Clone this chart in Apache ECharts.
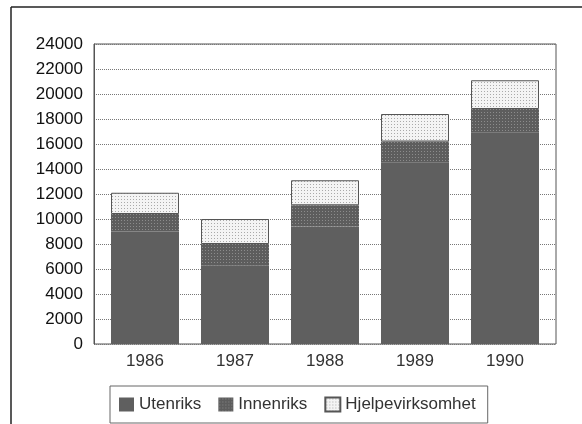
<!DOCTYPE html>
<html>
<head>
<meta charset="utf-8">
<script src="https://cdn.jsdelivr.net/npm/echarts@6/dist/echarts.min.js"></script>
<style>
  html, body { margin: 0; padding: 0; background: #fff; }
  #chart { width: 582px; height: 424px; }
</style>
</head>
<body>
<div id="chart"></div>
<script>
var years = ['1986', '1987', '1988', '1989', '1990']
var utenriks = [9000, 6300, 9400, 14500, 16900]
var innenriks = [1400, 1700, 1700, 1700, 1900]
var hjelpevirksomhet = [1700, 2000, 2000, 2200, 2300]
var yTicks = [0, 2000, 4000, 6000, 8000, 10000, 12000, 14000, 16000, 18000, 20000, 22000, 24000]

// prikkete fyllmønster
function dots (bg, dot) {
  var c = document.createElement('canvas')
  c.width = 3
  c.height = 3
  var ctx = c.getContext('2d')
  ctx.fillStyle = bg
  ctx.fillRect(0, 0, 3, 3)
  ctx.fillStyle = dot
  ctx.fillRect(1, 1, 1, 1)
  return { image: c, repeat: 'repeat' }
}

var font = "'Liberation Sans', Arial, sans-serif"
var chart = echarts.init(document.getElementById('chart'))

var options = {
  animation: false,
  textStyle: { fontFamily: font },
  graphic: [
    { type: 'line', shape: { x1: 11, y1: 7, x2: 11, y2: 424 }, style: { stroke: '#222', lineWidth: 1.5 } },
    { type: 'line', shape: { x1: 11, y1: 7, x2: 582, y2: 7 }, style: { stroke: '#222', lineWidth: 1.5 } }
  ],
  grid: [
    { left: 94, right: 26, top: 44, bottom: 80, show: true, borderColor: '#555', borderWidth: 1 },
    { left: 100, right: 32, top: 44, bottom: 80 }
  ],
  xAxis: [
    { type: 'value', gridIndex: 0, show: false, min: 0, max: 1 },
    {
      type: 'category',
      gridIndex: 1,
      data: years,
      axisLine: { show: false },
      axisTick: { show: false },
      axisLabel: { color: '#333', fontSize: 17, margin: 9, fontFamily: font }
    }
  ],
  yAxis: [
    {
      type: 'value',
      gridIndex: 0,
      min: 0,
      max: 24000,
      interval: 2000,
      axisLine: { show: true, lineStyle: { color: '#555' } },
      axisTick: { show: false },
      splitLine: { show: true, lineStyle: { type: 'dotted', color: '#777', width: 1 } },
      axisLabel: {
        color: '#111',
        fontSize: 17,
        margin: 11,
        fontFamily: font,
        formatter: function (v) { return yTicks.indexOf(v) >= 0 ? String(v) : '' }
      }
    },
    { type: 'value', gridIndex: 1, min: 0, max: 24000, show: false }
  ],
  legend: {
    left: 110,
    top: 386,
    padding: [10, 12, 10, 9],
    itemGap: 17,
    itemWidth: 15,
    itemHeight: 14,
    icon: 'rect',
    borderColor: '#666',
    borderWidth: 1,
    textStyle: { fontSize: 17, color: '#333', fontFamily: font },
    data: ['Utenriks', 'Innenriks', 'Hjelpevirksomhet']
  },
  series: [
    {
      name: 'Utenriks',
      type: 'bar',
      xAxisIndex: 1,
      yAxisIndex: 1,
      stack: 'tot',
      barWidth: 68,
      itemStyle: { color: '#5f5f5f' },
      data: utenriks
    },
    {
      name: 'Innenriks',
      type: 'bar',
      xAxisIndex: 1,
      yAxisIndex: 1,
      stack: 'tot',
      barWidth: 68,
      itemStyle: { color: dots('#5d5d5d', '#8c8c8c') },
      data: innenriks
    },
    {
      name: 'Hjelpevirksomhet',
      type: 'bar',
      xAxisIndex: 1,
      yAxisIndex: 1,
      stack: 'tot',
      barWidth: 68,
      itemStyle: { color: dots('#f4f4f4', '#aaaaaa'), borderColor: '#555', borderWidth: 1 },
      data: hjelpevirksomhet
    }
  ]
}
chart.setOption(options)
</script>
</body>
</html>
